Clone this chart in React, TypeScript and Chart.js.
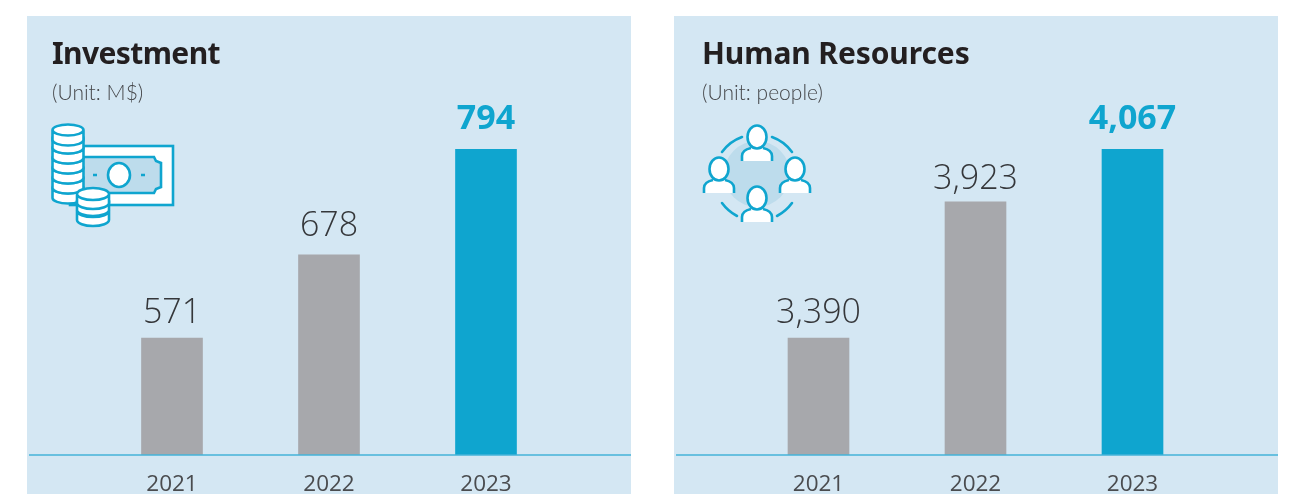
import React, { useEffect, useRef } from "react";
import { Chart, LinearScale, registerables } from "chart.js";

Chart.register(...registerables);

const years = ["2021", "2022", "2023"];
const investmentValues = [571, 678, 794];
const humanResourcesValues = [3390, 3923, 4067];
const investmentLabels = ["571", "678", "794"];
const humanResourcesLabels = ["3,390", "3,923", "4,067"];

const GREY = "#a7a8ac";
const BLUE = "#0fa5cf";
const PANEL = "#d4e7f3";
const DEEP = "#bddcec";

// The source graphic's axis is not proportional: its bars follow hand-set steps.
class SteppedScale extends LinearScale {
  static id = "stepped";
  static defaults = LinearScale.defaults;
  getPixelForValue(value: number) {
    const steps: number[][] = (this.options as any).steps;
    let frac = 1;
    for (let i = 1; i < steps.length; i++) {
      if (value <= steps[i][0]) {
        const [a, fa] = steps[i - 1];
        const [b, fb] = steps[i];
        frac = fa + ((value - a) / (b - a)) * (fb - fa);
        break;
      }
    }
    return this.bottom - frac * (this.bottom - this.top);
  }
}
Chart.register(SteppedScale as any);

const decorations = {
  id: "decorations",
  afterDatasetsDraw(chart: any, _a: any, opts: any) {
    const { ctx, scales } = chart;
    const y = scales.x.top;
    ctx.save();
    ctx.strokeStyle = "#45b3d8";
    ctx.lineWidth = 1.5;
    ctx.beginPath();
    ctx.moveTo(2, y);
    ctx.lineTo(chart.width, y);
    ctx.stroke();
    ctx.textAlign = "center";
    ctx.textBaseline = "alphabetic";
    const bars = chart.getDatasetMeta(0).data;
    bars.forEach((bar: any, i: number) => {
      const last = i === bars.length - 1;
      ctx.font = last ? "700 34px 'Open Sans'" : "300 34px 'Open Sans'";
      ctx.fillStyle = last ? BLUE : "#35373a";
      ctx.fillText(opts.labels[i], bar.x, bar.y - opts.gaps[i]);
    });
    ctx.restore();
  },
};

function Panel(props: {
  left: number;
  textLeft: number;
  titleSpacing: number;
  title: string;
  unit: string;
  values: number[];
  labels: string[];
  steps: number[][];
  gaps: number[];
  shift: number;
  children: React.ReactNode;
}) {
  const ref = useRef<HTMLCanvasElement>(null);
  useEffect(() => {
    const chart = new Chart(ref.current!, {
      type: "bar",
      data: {
        labels: years,
        datasets: [
          {
            data: props.values,
            backgroundColor: [GREY, GREY, BLUE],
            barThickness: 61,
          },
        ],
      },
      options: {
        animation: false,
        responsive: false,
        maintainAspectRatio: false,
        layout: {
          padding: { top: 133, left: 66.5 + props.shift, right: 66.5 - props.shift, bottom: 0 },
        },
        plugins: {
          legend: { display: false },
          tooltip: { enabled: false },
          decorations: { labels: props.labels, gaps: props.gaps },
        } as any,
        scales: {
          x: {
            grid: { display: false },
            border: { display: false },
            afterFit: (s: any) => {
              s.height = 39;
            },
            ticks: {
              padding: 8,
              color: "#4a4c4f",
              font: { family: "Open Sans", size: 22.5 },
              maxRotation: 0,
            },
          },
          y: {
            type: "stepped",
            display: false,
            min: 0,
            max: props.values[props.values.length - 1],
            steps: props.steps,
          } as any,
        },
      },
      plugins: [decorations],
    });
    return () => chart.destroy();
  }, []);
  return (
    <div
      style={{
        position: "absolute",
        left: props.left,
        top: 16,
        width: 604,
        height: 478,
        background: PANEL,
      }}
    >
      <canvas ref={ref} width={604} height={478} style={{ display: "block" }} />
      <div
        style={{
          position: "absolute",
          left: props.textLeft,
          top: 17,
          font: "700 30px 'Noto Sans'",
          lineHeight: "40px",
          letterSpacing: props.titleSpacing,
          color: "#231f20",
          whiteSpace: "nowrap",
        }}
      >
        {props.title}
      </div>
      <div
        style={{
          position: "absolute",
          left: props.textLeft,
          top: 63,
          font: "300 21px Lato",
          lineHeight: "26px",
          color: "#45474a",
          whiteSpace: "nowrap",
        }}
      >
        {props.unit}
      </div>
      {props.children}
    </div>
  );
}

function MoneyIcon() {
  const s = { fill: "#fff", stroke: BLUE, strokeWidth: 2.6 };
  const coin = (cx: number, cy: number, rx: number, ry: number, h: number, key: string) => (
    <path
      key={key}
      d={`M${cx - rx} ${cy} V${cy + h} A${rx} ${ry} 0 0 0 ${cx + rx} ${cy + h} V${cy} A${rx} ${ry} 0 0 0 ${cx - rx} ${cy} A${rx} ${ry} 0 0 0 ${cx + rx} ${cy}`}
      {...s}
    />
  );
  return (
    <svg
      width={150}
      height={120}
      viewBox="45 115 150 120"
      style={{ position: "absolute", left: 18, top: 99 }}
    >
      <rect x={70} y={146} width={103} height={59} {...s} />
      <path
        d="M70 157 H154 L156 161 L161 163 V187 L156 189 L154 193 H70 Z"
        fill={DEEP}
        stroke={BLUE}
        strokeWidth={2.6}
      />
      <ellipse cx={119} cy={175} rx={11} ry={12} {...s} />
      <path d="M93 175 h4 M141 175 h4" stroke={BLUE} strokeWidth={2.4} />
      {[188, 178, 168, 158, 148, 138, 130].map((y, i) => coin(68, y, 15.5, 5.5, 10, "a" + i))}
      {[211, 201, 194].map((y, i) => coin(93, y, 16, 6, 9, "b" + i))}
    </svg>
  );
}

function Person({ cx, top }: { cx: number; top: number }) {
  return (
    <g>
      <path
        d={`M${cx - 15} ${top + 36} V${top + 31} Q${cx - 15} ${top + 25} ${cx - 6} ${top + 23} H${cx + 6} Q${cx + 15} ${top + 25} ${cx + 15} ${top + 31} V${top + 36} Z`}
        fill="#fff"
      />
      <path
        d={`M${cx - 15} ${top + 36} V${top + 31} Q${cx - 15} ${top + 25} ${cx - 6} ${top + 23} M${cx + 6} ${top + 23} Q${cx + 15} ${top + 25} ${cx + 15} ${top + 31} V${top + 36}`}
        fill="none"
        stroke={BLUE}
        strokeWidth={2.6}
      />
      <ellipse cx={cx} cy={top + 12} rx={9.5} ry={11.5} fill="#fff" stroke={BLUE} strokeWidth={2.6} />
    </g>
  );
}

function PeopleIcon() {
  const arc = { fill: "none", stroke: BLUE, strokeWidth: 2.6, strokeLinecap: "round" as const };
  return (
    <svg
      width={130}
      height={110}
      viewBox="695 118 130 110"
      style={{ position: "absolute", left: 21, top: 102 }}
    >
      <circle cx={757} cy={174} r={33} fill={DEEP} />
      <path d="M722 152 A42 42 0 0 1 742 137" {...arc} />
      <path d="M772 137 A42 42 0 0 1 792 152" {...arc} />
      <path d="M722 203 A44 44 0 0 0 737 216" {...arc} />
      <path d="M777 216 A44 44 0 0 0 792 203" {...arc} />
      <Person cx={757} top={125} />
      <Person cx={719} top={157} />
      <Person cx={795} top={157} />
      <Person cx={757} top={186} />
    </svg>
  );
}

export default function App() {
  return (
    <div
      style={{
        position: "absolute",
        left: 0,
        top: 0,
        width: 1290,
        height: 494,
        overflow: "hidden",
        background: "#fff",
      }}
    >
      <Panel
        left={27}
        textLeft={25}
        titleSpacing={-0.6}
        title="Investment"
        unit="(Unit: M$)"
        values={investmentValues}
        labels={investmentLabels}
        steps={[[0, 0], [571, 0.382], [678, 0.654], [794, 1]]}
        gaps={[15, 19, 20]}
        shift={0}
      >
        <MoneyIcon />
      </Panel>
      <Panel
        left={674}
        textLeft={28}
        titleSpacing={-0.1}
        title="Human Resources"
        unit="(Unit: people)"
        values={humanResourcesValues}
        labels={humanResourcesLabels}
        steps={[[0, 0], [3390, 0.382], [3923, 0.827], [4067, 1]]}
        gaps={[15, 13, 20]}
        shift={-0.5}
      >
        <PeopleIcon />
      </Panel>
    </div>
  );
}
